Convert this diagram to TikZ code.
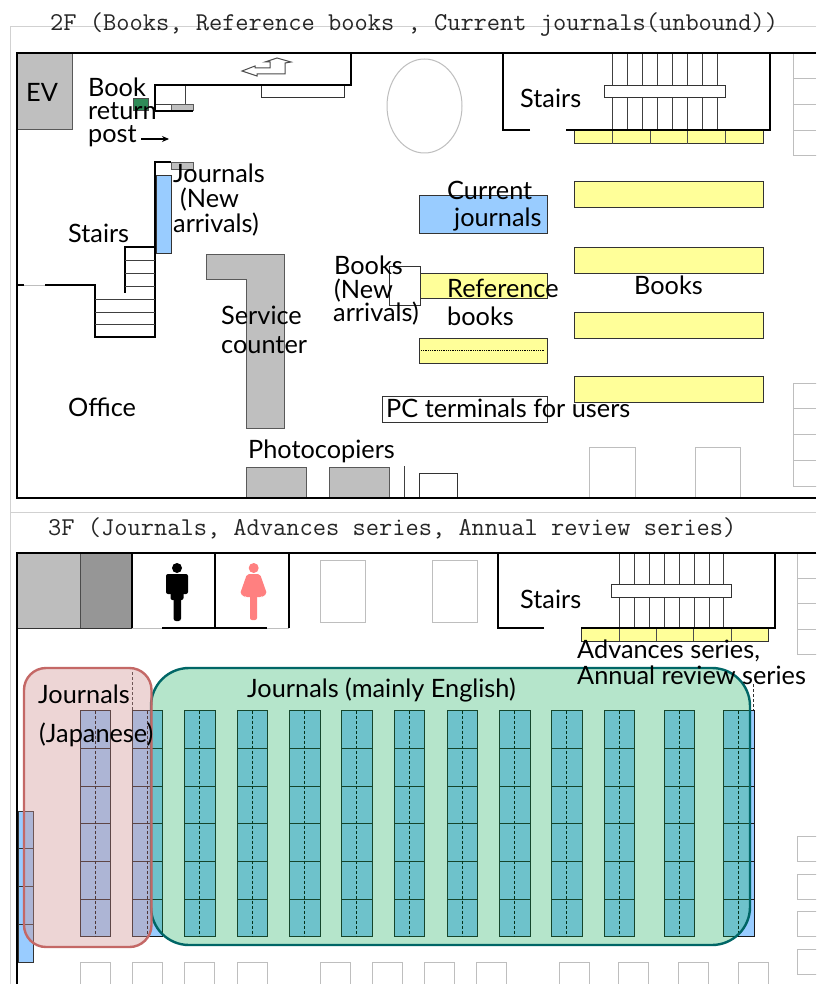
\documentclass[tikz,border=0pt]{standalone}
\usepackage{fontspec}
\usetikzlibrary{arrows.meta}
\setmainfont{Lato}
\definecolor{wallgray}{HTML}{BDBDBD}
\definecolor{fixgray}{HTML}{BFBFBF}
\definecolor{bookyellow}{HTML}{FFFF99}
\definecolor{shelfblue}{HTML}{99CCFF}
\definecolor{faint}{HTML}{BEBEBE}
\definecolor{returngreen}{HTML}{2E8B57}
\tikzset{
  wall/.style={draw=black,line width=2pt},
  thinwall/.style={draw=black!75,line width=1pt},
  faintbox/.style={draw=faint,line width=1pt,fill=white},
  yellowbox/.style={draw=black!80,line width=1pt,fill=bookyellow},
  bluebox/.style={draw=black!80,line width=1pt,fill=shelfblue},
  graybox/.style={draw=black!65,line width=1pt,fill=fixgray},
  whitebox/.style={draw=black!80,line width=1pt,fill=white},
  lbl/.style={anchor=base west,inner sep=0pt,text=black,font=\fontsize{25.3}{30}\selectfont},
  ttl/.style={anchor=base west,inner sep=0pt,text=black!85,font=\ttfamily\fontsize{25.7}{30}\selectfont},
}
\begin{document}
\begin{tikzpicture}[x=1pt,y=-1pt]
\useasboundingbox (0,0) rectangle (816,984);
\clip (0,0) rectangle (816,984);
\fill[white] (0,0) rectangle (816,984);
% page frame
\draw[draw=black!18,line width=1pt] (816,27) -- (10,27) -- (10,984);
\draw[draw=black!18,line width=1pt] (10,512) -- (816,512);
% ---------- 2F ----------
\node[ttl] (t2f) at (50,31) {2F (Books, Reference books , Current journals(unbound))};
\path[graybox] (17,53) rectangle (72,130);
\draw[faintbox] (424.5,106) ellipse [x radius=37.5,y radius=47];
% upper left walls
\draw[thinwall] (185.5,85) -- (185.5,105);
\draw[thinwall] (155,105) -- (171,105);
\path[graybox] (171,105) rectangle (193,111);
\draw[wall,line width=1.4pt] (155,111) -- (193,111);
\path[whitebox] (261,86) rectangle (344,98);
\draw[wall] (155,111) -- (155,85) -- (351,85) -- (351,53);
\path[fill=returngreen,draw=black!70,line width=.8pt] (133,98) rectangle (148,110);
% one-way arrow icon
\draw[draw=black!70,line width=1pt] (242,71) -- (255,66) -- (255,68) -- (270,68) -- (270,62) -- (265,62) -- (277,58) -- (291,62) -- (285,63) -- (285,74) -- (257,74) -- (257,76) -- cycle;
% small arrow
\coordinate (arrowA) at (141,139);
\coordinate (arrowB) at (169,139);
\draw[-{Stealth[length=7pt,width=6pt]},line width=1.1pt] (arrowA) -- (arrowB);
% journals new arrivals
\path[graybox] (171,163) rectangle (193,170);
\path[bluebox] (156,176) rectangle (171,253);
\draw[wall] (171,162) -- (155,162) -- (155,337) -- (95,337) -- (95,285) -- (45,285);
\draw[wall] (17,285) -- (24,285);
\draw[draw=faint,line width=1pt] (24,285) -- (45,285);
\draw[wall] (155,247) -- (125,247) -- (125,293);
\foreach \yy in {260,273,286} \draw[thinwall] (125,\yy) -- (155,\yy);
\foreach \yy in {299,312,324.5} \draw[thinwall] (95,\yy) -- (155,\yy);
% service counter
\path[graybox] (206,254) -- (284,254) -- (284,428) -- (246,428) -- (246,279) -- (206,279) -- cycle;
% photocopiers etc
\path[graybox] (246,467) rectangle (306,498);
\path[graybox] (329,467) rectangle (389,498);
\draw[thinwall] (404,466) -- (404,498);
\path[whitebox] (419,473) rectangle (457,498);
% middle shelves
\path[bluebox] (419,196) rectangle (547,234);
\path[yellowbox] (419,273) rectangle (547,298);
\path[whitebox] (389,266) rectangle (420,305);
\path[yellowbox] (419,338) rectangle (547,363);
\draw[black,line width=.8pt,densely dotted] (421,350.5) -- (545,350.5);
\path[whitebox] (382,396) rectangle (547,422);
% books
\foreach \yy in {182,247,312,376} \path[yellowbox] (574,\yy) rectangle (763,\yy+26);
\path[yellowbox] (574,130) rectangle (763,144);
\foreach \xx in {612,650,687,725} \draw[draw=black!70,line width=1pt] (\xx,130) -- (\xx,144);
% stairs top right
\foreach \xx in {612,627,642,657,672,687,702,717} \draw[draw=black!75,line width=1pt] (\xx,53) -- (\xx,130);
\path[whitebox] (604,85.5) rectangle (725,98);
\draw[wall] (530,130) -- (502.5,130) -- (502.5,53);
\draw[wall] (566,130) -- (770,130) -- (770,53);
% right side
\path[faintbox] (793,53) rectangle (830,156);
\foreach \yy in {79,105,131} \draw[draw=faint,line width=1pt] (793,\yy) -- (816,\yy);
\path[faintbox] (793,383) rectangle (830,486);
\foreach \yy in {408.5,434,460} \draw[draw=faint,line width=1pt] (793,\yy) -- (816,\yy);
\path[faintbox] (589,447) rectangle (635,498);
\path[faintbox] (695,447) rectangle (740,498);
% outer walls
\draw[wall] (816,53) -- (17,53) -- (17,498) -- (816,498);
% labels 2F
\node[lbl] (ev) at (26,102) {EV};
\node[lbl] (book1) at (88,97) {Book};
\node[lbl] (book2) at (88,120) {return};
\node[lbl] (book3) at (88,143) {post};
\node[lbl] (jn1) at (173,183) {Journals};
\node[lbl] (jn2) at (180,208) {(New};
\node[lbl] (jn3) at (173,233) {arrivals)};
\node[lbl] (st1) at (68,242) {Stairs};
\node[lbl] (sc1) at (221,324) {Service};
\node[lbl] (sc2) at (221,353) {counter};
\node[lbl] (bn1) at (334,274) {Books};
\node[lbl] (bn2) at (334,298) {(New};
\node[lbl] (bn3) at (333,321) {arrivals)};
\node[lbl] (off) at (68,416) {Office};
\node[lbl] (pho) at (248,458) {Photocopiers};
\node[lbl] (cj1) at (447,200) {Current};
\node[lbl] (cj2) at (454,227) {journals};
\node[lbl] (st2) at (520,108) {Stairs};
\node[lbl] (rf1) at (447,297) {Reference};
\node[lbl] (rf2) at (447,325) {books};
\node[lbl] (bks) at (634,294) {Books};
\node[lbl] (pc) at (386,417) {PC terminals for users};
% ---------- 3F ----------
\node[ttl] (t3f) at (48,535) {3F (Journals, Advances series, Annual review series)};
\fill[wallgray] (17,553) rectangle (80,628);
\fill[black!41] (80,553) rectangle (132,628);
\draw[draw=black!70,line width=1pt] (80,553) -- (80,628);
\draw[wall] (132,553) -- (132,628);
\draw[wall] (214.5,553) -- (214.5,628);
\draw[wall] (289,553) -- (289,628);
\draw[draw=black!80,line width=1pt] (17,628) -- (132,628);
\draw[draw=faint,line width=1pt] (132,628) -- (289,628);
\draw[wall] (162,628) -- (267,628);
% man
\fill[black] (177,568) circle (5);
\fill[black,rounded corners=2pt] (166,574) rectangle (188,594);
\fill[black,rounded corners=2pt] (170.5,586) rectangle (183.5,600);
\fill[black,rounded corners=2.5pt] (173.5,590) rectangle (181,621);
% woman
\definecolor{pinkfig}{HTML}{FF8080}
\fill[pinkfig] (253.7,568) circle (5);
\fill[pinkfig,rounded corners=2pt] (247,574) -- (260,574) -- (267,594) -- (263,596) -- (262,597) -- (245,597) -- (244,596) -- (240,594) -- cycle;
\fill[pinkfig,rounded corners=2pt] (250,592) rectangle (257,620);
% faint boxes
\path[faintbox] (320,560) rectangle (365,622);
\path[faintbox] (432,560) rectangle (477,622);
% stairs
\foreach \xx in {619,634,649,664,679,694,709,723} \draw[draw=black!75,line width=1pt] (\xx,553) -- (\xx,628);
\path[whitebox] (611,584) rectangle (731,597);
\path[yellowbox] (581.5,628) rectangle (768,641);
\foreach \xx in {619,656,693,731} \draw[draw=black!70,line width=1pt] (\xx,628) -- (\xx,641);
\draw[wall] (544,628) -- (498,628) -- (498,553);
\draw[wall] (581,628) -- (775,628) -- (775,553);
% right side
\path[faintbox] (797,553) rectangle (830,654);
\foreach \yy in {578.5,603,629} \draw[draw=faint,line width=1pt] (797,\yy) -- (816,\yy);
\foreach \yy in {836,874,911,949} \path[faintbox] (797,\yy) rectangle (830,\yy+25);
% bottom row
\foreach \xx in {80,132,184,237,320,372,424,476,559,618,678,738} \path[faintbox] (\xx,962) rectangle (\xx+30,1000);
% left shelf
\foreach \yy in {811,848.5,886,924} \path[bluebox] (18,\yy) rectangle (33,\yy+38);
% shelves
\foreach \xx in {80,132,184.5,237,289.5,341.5,394,447,499.5,551.5,604,664,723.5}{
  \foreach \yy in {710.5,748.2,786,823.7,861.3,899}{
    \path[bluebox,draw=black!90] (\xx,\yy) rectangle (\xx+30.5,\yy+37.8);
  }
  \draw[draw=black,line width=.8pt,densely dashed] (\xx+15.25,710.5) -- (\xx+15.25,936.8);
}
\draw[draw=black!80,line width=.8pt,densely dashed] (132.5,672) -- (132.5,710);
\draw[draw=black!80,line width=.8pt,densely dashed] (753.5,684) -- (753.5,710);
% overlays
\path[fill={rgb,255:red,12;green,172;blue,85},fill opacity=.3,draw=none,rounded corners=38pt] (151,668) rectangle (750,945);
\draw[draw={rgb,255:red,0;green,102;blue,102},line width=2.4pt,rounded corners=38pt] (151,668) rectangle (750,945);
\path[fill={rgb,255:red,208;green,145;blue,145},fill opacity=.38,draw=none,rounded corners=22pt] (24,668) rectangle (151.5,947);
\draw[draw={rgb,255:red,196;green,104;blue,102},line width=2.4pt,rounded corners=22pt] (24,668) rectangle (151.5,947);
% outer walls
\draw[wall] (816,553) -- (17,553) -- (17,984);
% labels 3F
\node[lbl] (st3) at (520,608) {Stairs};
\node[lbl] (adv1) at (577,658) {Advances series,};
\node[lbl] (adv2) at (577,684) {Annual review series};
\node[lbl] (jen) at (247,697) {Journals (mainly English)};
\node[lbl] (jjp1) at (38,703) {Journals};
\node[lbl] (jjp2) at (39,742) {(Japanese)};
\end{tikzpicture}
\end{document}
